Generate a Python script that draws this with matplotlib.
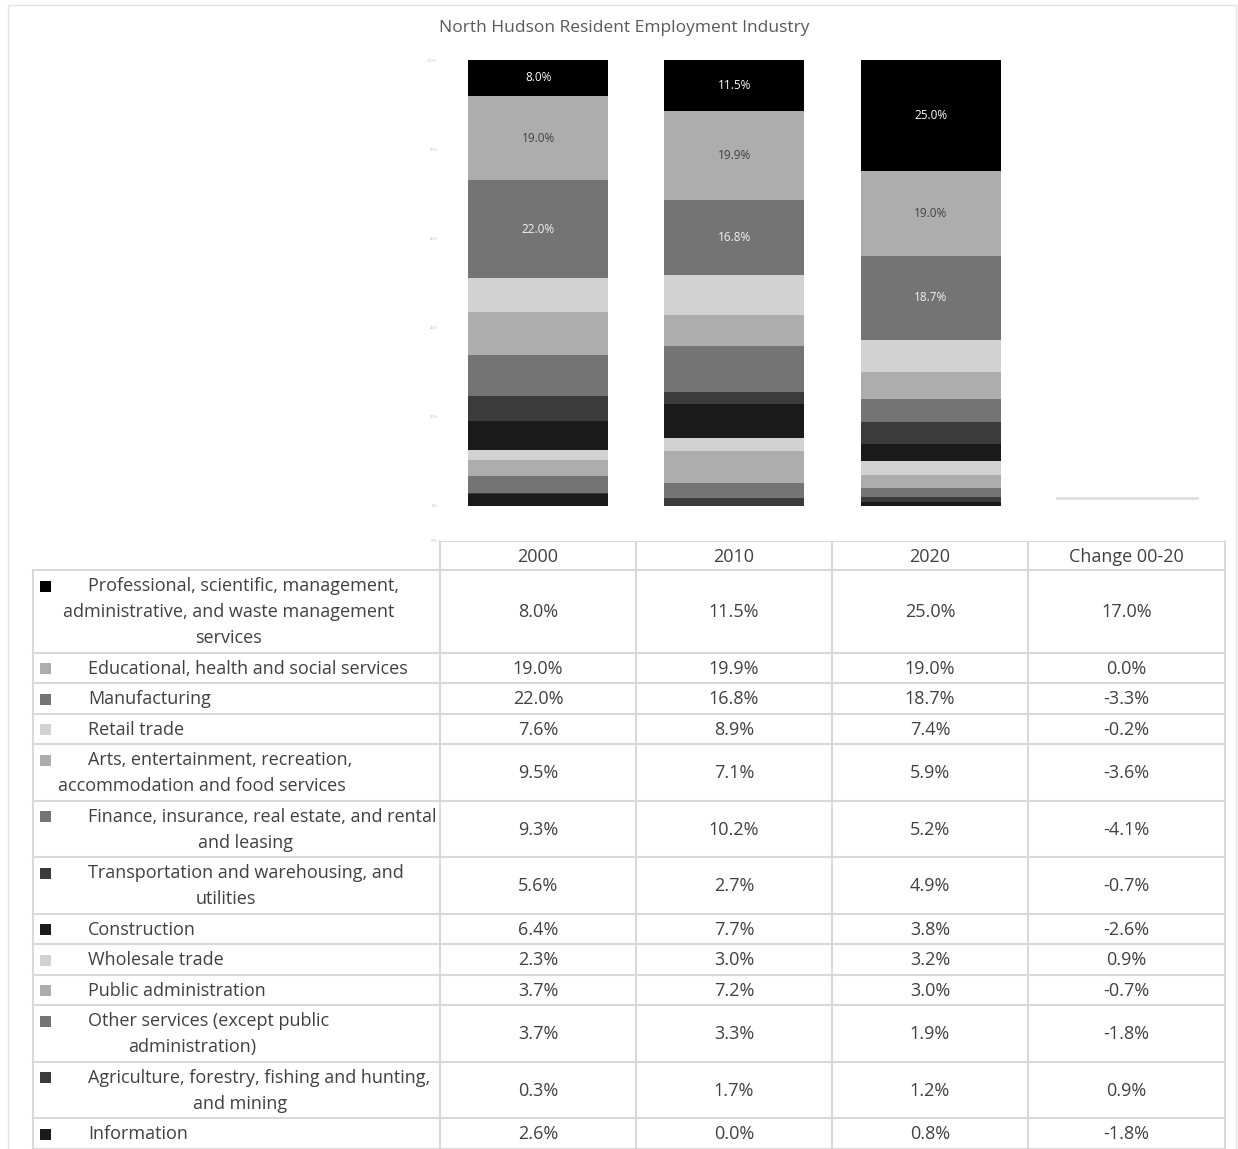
import numpy as np
import matplotlib
matplotlib.use('Agg')
from matplotlib import pyplot as plt
from matplotlib.patches import Rectangle

# chart data
categories = ['2000', '2010', '2020', 'Change 00-20']
industries = [
    'Professional, scientific, management,\nadministrative, and waste management\nservices',
    'Educational, health and social services',
    'Manufacturing',
    'Retail trade',
    'Arts, entertainment, recreation,\naccommodation and food services',
    'Finance, insurance, real estate, and rental\nand leasing',
    'Transportation and warehousing, and\nutilities',
    'Construction',
    'Wholesale trade',
    'Public administration',
    'Other services (except public\nadministration)',
    'Agriculture, forestry, fishing and hunting,\nand mining',
    'Information',
]
v2000 = [8.0, 19.0, 22.0, 7.6, 9.5, 9.3, 5.6, 6.4, 2.3, 3.7, 3.7, 0.3, 2.6]
v2010 = [11.5, 19.9, 16.8, 8.9, 7.1, 10.2, 2.7, 7.7, 3.0, 7.2, 3.3, 1.7, 0.0]
v2020 = [25.0, 19.0, 18.7, 7.4, 5.9, 5.2, 4.9, 3.8, 3.2, 3.0, 1.9, 1.2, 0.8]
change = [17.0, 0.0, -3.3, -0.2, -3.6, -4.1, -0.7, -2.6, 0.9, -0.7, -1.8, 0.9, -1.8]

colors = ['#000000', '#adadad', '#747474', '#d2d2d2', '#adadad', '#747474', '#3b3b3b',
          '#1a1a1a', '#d2d2d2', '#adadad', '#747474', '#3b3b3b', '#1a1a1a']
label_colors = ['#ffffff', '#404040', '#f2f2f2']

W, H = 1238, 1149
FONT = ['Open Sans', 'DejaVu Sans']
TXT = '#404040'
GRID = '#d9d9d9'
FS = 13

fig = plt.figure(figsize=(W / 100, H / 100), dpi=100, facecolor='white')

# overlay in pixel coords for the table and frame
ov = fig.add_axes([0, 0, 1, 1])
ov.set_xlim(0, W)
ov.set_ylim(H, 0)
ov.axis('off')
ov.add_patch(Rectangle((8, 5), W - 10, H, fill=False, ec='#e3e3e3', lw=1))
ov.text(624, 28, 'North Hudson Resident Employment Industry', ha='center', va='center',
        fontsize=12.5, color='#595959', family=FONT)

# bar chart area
x0, x1, ytop, ybot = 440, 1225, 60, 541
ax = fig.add_axes([x0 / W, 1 - ybot / H, (x1 - x0) / W, (ybot - ytop) / H])
ax.set_xlim(-0.5, 3.5)
ax.set_ylim(-7.9, 100)
for s in ax.spines.values():
    s.set_visible(False)
ax.set_xticks([])
ax.set_yticks([-7.9, 0, 20, 40, 60, 80, 100])
ax.set_yticklabels(['-8%', '0%', '20%', '40%', '60%', '80%', '100%'])
ax.tick_params(axis='y', length=0, pad=2, labelsize=2.5, labelcolor='#bfbfbf')

series = [v2000, v2010, v2020]
bw = 0.714
for j, vals in enumerate(series):
    bottom = 0.0
    for i in reversed(range(len(industries))):
        v = vals[i]
        ax.bar(j, v, bw, bottom=bottom, color=colors[i], lw=0)
        if i < 3:
            ax.text(j, bottom + v / 2, f'{v:.1f}%', ha='center', va='center',
                    fontsize=8.5, color=label_colors[i], family=FONT)
        bottom += v

# change column: bars carry no fill in the original, only the zero bar shows
pos, neg = 0.0, 0.0
for i in reversed(range(len(industries))):
    v = change[i]
    if v >= 0:
        if v == 0:
            ax.plot([3 - bw / 2, 3 + bw / 2], [pos, pos], color='#dedede', lw=2)
        ax.bar(3, v, bw, bottom=pos, color='none', lw=0)
        pos += v
    else:
        ax.bar(3, v, bw, bottom=neg, color='none', lw=0)
        neg += v

# data table
col_edges = [440, 636, 832, 1028, 1225]
left_x = 33
head_top, head_bot = 541, 570
ov.plot([col_edges[0], col_edges[-1]], [head_top, head_top], color=GRID, lw=1.5)
for k, c in enumerate(categories):
    ov.text((col_edges[k] + col_edges[k + 1]) / 2, (head_top + head_bot) / 2 + 1, c,
            ha='center', va='center', fontsize=FS, color=TXT, family=FONT)

line_h = 26
cont_x = [229, None, None, None, 202, 246, 226, None, None, None, 192, 240, None]
y = head_bot
rows = list(zip(industries, v2000, v2010, v2020, change))
for i, (name, a, b, c, d) in enumerate(rows):
    lines = name.split('\n')
    h = 4.5 + line_h * len(lines)
    ov.plot([left_x, col_edges[-1]], [y, y], color=GRID, lw=1.5)
    first_y = y + 2.25 + line_h / 2 + 1
    ov.add_patch(Rectangle((40, first_y - 5.5), 11, 11, color=colors[i], lw=0))
    ov.text(88, first_y, lines[0], ha='left', va='center', fontsize=FS, color=TXT, family=FONT)
    for n, ln in enumerate(lines[1:], start=1):
        ov.text(cont_x[i], first_y + n * line_h, ln, ha='center', va='center',
                fontsize=FS, color=TXT, family=FONT)
    for k, v in enumerate([a, b, c, d]):
        ov.text((col_edges[k] + col_edges[k + 1]) / 2, y + h / 2 + 1, f'{v:.1f}%',
                ha='center', va='center', fontsize=FS, color=TXT, family=FONT)
    y += h
ov.plot([left_x, col_edges[-1]], [y, y], color=GRID, lw=1.5)
ov.plot([left_x, left_x], [head_bot, y], color=GRID, lw=1.5)
for xe in col_edges:
    ov.plot([xe, xe], [head_top, y], color=GRID, lw=1.5)

fig.savefig('out.png', dpi=100, facecolor='white')
